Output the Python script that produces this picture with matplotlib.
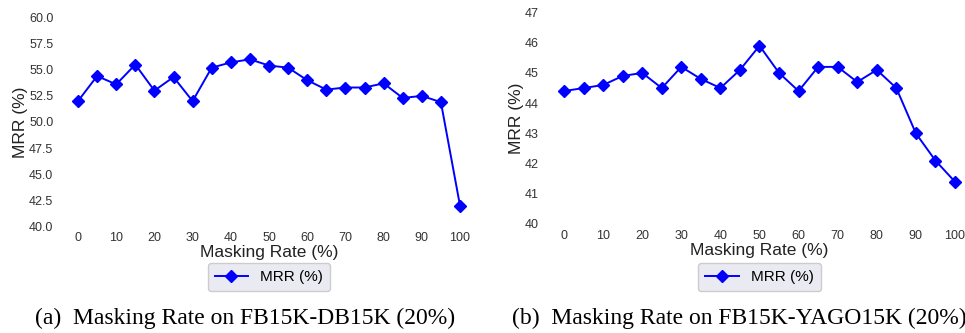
import numpy as np
import matplotlib
matplotlib.use('Agg')
import matplotlib.pyplot as plt

plt.rcParams['font.family'] = ['Liberation Sans', 'DejaVu Sans']

# masking rate (%) on the x axis
rates = [0, 5, 10, 15, 20, 25, 30, 35, 40, 45, 50, 55, 60, 65, 70, 75, 80, 85, 90, 95, 100]

# MRR (%)
mrr_db = [52.0, 54.4, 53.6, 55.5, 53.0, 54.3, 52.0, 55.2, 55.7, 56.0, 55.4,
          55.2, 54.0, 53.1, 53.3, 53.3, 53.7, 52.3, 52.5, 51.9, 42.0]
mrr_yago = [44.4, 44.5, 44.6, 44.9, 45.0, 44.5, 45.2, 44.8, 44.5, 45.1, 45.9,
            45.0, 44.4, 45.2, 45.2, 44.7, 45.1, 44.5, 43.0, 42.1, 41.4]

xticks = [0, 10, 20, 30, 40, 50, 60, 70, 80, 90, 100]
yticks_db = [40.0, 42.5, 45.0, 47.5, 50.0, 52.5, 55.0, 57.5, 60.0]
yticks_yago = [40, 41, 42, 43, 44, 45, 46, 47]

captions = ['(a)  Masking Rate on FB15K-DB15K (20%)',
            '(b)  Masking Rate on FB15K-YAGO15K (20%)']

W, H = 965, 333
fig = plt.figure(figsize=(W / 100, H / 100), dpi=100)


def px_axes(left, top, width, height):
    return fig.add_axes([left / W, 1 - (top + height) / H, width / W, height / H])


ax1 = px_axes(58.9, 17.5, 420.2, 209.0)
ax2 = px_axes(544.5, 12.5, 430.0, 211.5)

panels = [(ax1, mrr_db, yticks_db, '%.1f'), (ax2, mrr_yago, yticks_yago, '%d')]
for ax, vals, yt, fmt in panels:
    ax.plot(rates, vals, color='blue', marker='D', markersize=6.5, linewidth=1.4,
            label='MRR (%)')
    ax.set_xlim(-5, 105)
    ax.set_ylim(yt[0], yt[-1])
    ax.set_xticks(xticks)
    ax.set_yticks(yt)
    ax.set_yticklabels([fmt % v for v in yt])
    for s in ax.spines.values():
        s.set_visible(False)
    ax.tick_params(length=0, labelsize=9, labelcolor='#333333', pad=4)
    ax.set_xlabel('Masking Rate (%)', fontsize=12.5, color='#222222', labelpad=1)
    ax.set_ylabel('MRR (%)', fontsize=12.5, color='#222222', labelpad=1)
    cx = (ax.get_position().x0 + ax.get_position().x1) / 2
    leg = ax.legend(loc='upper center', bbox_to_anchor=(cx, 1 - 263 / H),
                    bbox_transform=fig.transFigure, fontsize=11, frameon=True,
                    fancybox=True, handlelength=2.2, borderpad=0.45,
                    borderaxespad=0)
    leg.get_frame().set_facecolor('#EAEAF2')
    leg.get_frame().set_edgecolor('#cccccc')
    leg.get_frame().set_alpha(1)

fig.text(245 / W, 1 - 318 / H, captions[0], ha='center', va='center',
         fontsize=17, family='Liberation Serif')
fig.text(512 / W, 1 - 318 / H, captions[1], ha='left', va='center',
         fontsize=17, family='Liberation Serif')

fig.savefig('out.png', dpi=100, facecolor='white')
